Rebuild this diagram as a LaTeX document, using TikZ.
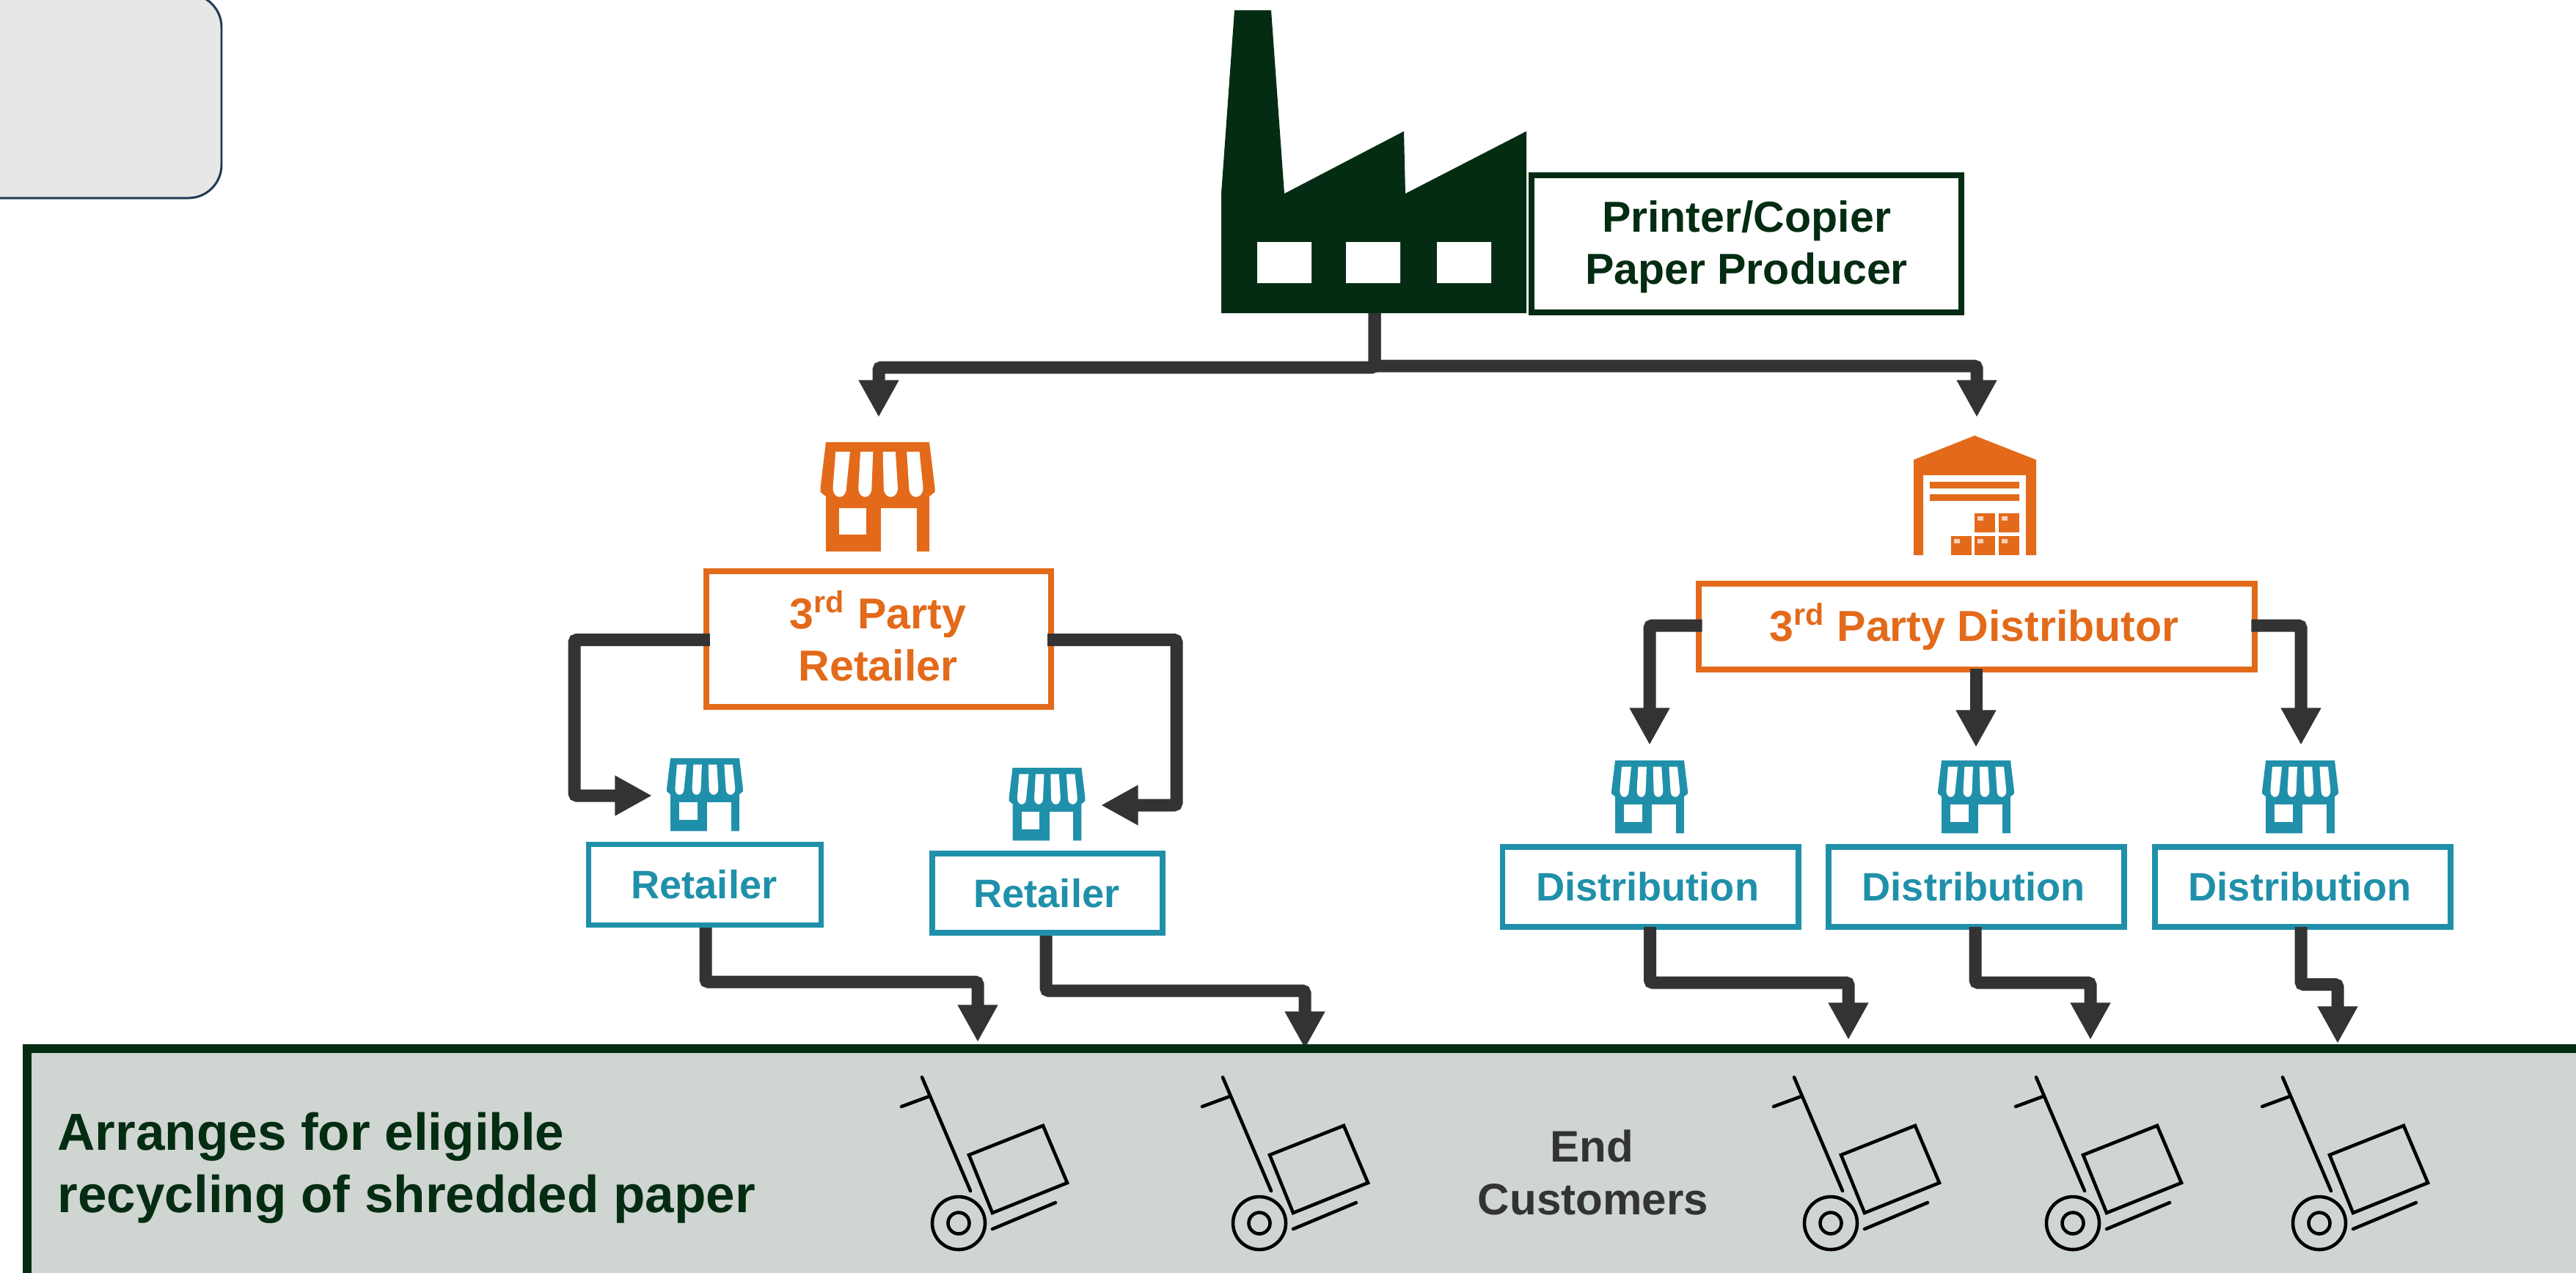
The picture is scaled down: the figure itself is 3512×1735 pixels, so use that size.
\documentclass[tikz,border=0pt]{standalone}
\usepackage{fontspec}
\setmainfont{Liberation Sans}
\usetikzlibrary{arrows.meta,calc}
\definecolor{dgreen}{HTML}{042C12}
\definecolor{orangeC}{HTML}{E36A1A}
\definecolor{tealC}{HTML}{2090AA}
\definecolor{darkC}{HTML}{333333}
\definecolor{panelC}{HTML}{CFD5D1}
\definecolor{greyC}{HTML}{E7E7E7}
\definecolor{navyC}{HTML}{1F3A56}
\tikzset{
  x=0.01cm,y=-0.01cm,
  conn/.style={draw=darkC,line width=4.84pt,rounded corners=1pt,-{Triangle[length=14.4pt,width=14.6pt]}},
  plainbox/.style={draw,fill=white,outer sep=0pt,inner sep=0pt},
  topbox/.style={plainbox,draw=dgreen,line width=2.3pt},
  orbox/.style={plainbox,draw=orangeC,line width=2.3pt},
  tlbox/.style={plainbox,draw=tealC,line width=2.2pt},
  toplab/.style={text=dgreen,align=center,inner sep=0pt,font=\fontsize{16.8}{20.2}\selectfont\bfseries},
  orlab/.style={text=orangeC,align=center,inner sep=0pt,font=\fontsize{16.8}{20.2}\selectfont\bfseries},
  tllab/.style={text=tealC,align=center,inner sep=0pt,font=\fontsize{15.4}{18}\selectfont\bfseries},
  paneltext/.style={anchor=base west,inner sep=0pt,text=dgreen,font=\fontsize{20.2}{24.2}\selectfont\bfseries},
  endtext/.style={anchor=base,inner sep=0pt,text=darkC,font=\fontsize{17.1}{20}\selectfont\bfseries},
  dollyline/.style={black,line width=1.3pt},
  pics/store/.style={code={
    \fill[#1] (-70.5,0) -- (70.5,0) -- (78,62) -- (78,68) -- (70.5,74) -- (70.5,149) -- (-70.5,149) -- (-70.5,74) -- (-78,68) -- (-78,62) -- cycle;
    \fill[white] (-52.5,90) rectangle (-15.5,126);
    \fill[white] (4.5,90) rectangle (53.5,149.6);
    \foreach \a/\b/\c/\d in {-57.2/-37.6/-42.6/-61,-23.5/-6.2/-8.1/-26.2,7.2/24.4/27.5/8.3,39.7/57/62/42.8}{
      \fill[white] (\a,13) -- (\b,13) -- (\c,62) .. controls (\c,79) and (\d,79) .. (\d,62) -- cycle;
    }
  }},
  pics/dolly/.style={code={
    \draw[dollyline,line cap=round] (-50,-199) -- (16,-44);
    \draw[dollyline,line cap=round] (-78,-159) -- (-40,-173);
    \draw[dollyline] (14,-93) -- (115,-133) -- (148,-55) -- (46,-14) -- cycle;
    \draw[dollyline,line cap=round] (46,8) -- (132,-28);
    \draw[dollyline] (0,0) circle[radius=36];
    \draw[dollyline] (0,0) circle[radius=14.5];
  }}
}
\begin{document}
\begin{tikzpicture}
\useasboundingbox (0,0) rectangle (3512,1735);
\clip (0,0) rectangle (3512,1735);
% top-left rounded panel
\draw[fill=greyC,draw=navyC,line width=0.85pt,rounded corners=12.8pt] (-100,-8) rectangle (302,270);
% factory
\fill[dgreen] (1683,14) -- (1733,14) -- (1751,264) -- (1914,179) -- (1916,264) -- (2081,179) -- (2081,427) -- (1665,427) -- (1665,264) -- cycle;
\fill[white] (1714,330) rectangle (1788,386) (1835,330) rectangle (1909,386) (1959,330) rectangle (2033,386);
\coordinate (fac) at (1874,427);
\coordinate (lj) at (1874,501);
\coordinate (rj) at (1874,499);
% boxes
\node[topbox,minimum width=5.86cm,minimum height=1.87cm,label={[toplab,yshift=-1.3pt]center:{Printer/Copier\\Paper Producer}}] (prod) at (2381,332.5) {};
\node[orbox,minimum width=4.70cm,minimum height=1.85cm,label={[orlab,xshift=-0.3pt,yshift=1.1pt]center:{3\textsuperscript{rd} Party\\Retailer}}] (rb) at (1198,871.5) {};
\node[orbox,minimum width=7.58cm,minimum height=1.17cm,label={[orlab,xshift=-1pt]center:{3\textsuperscript{rd} Party Distributor}}] (db) at (2695,854.5) {};
\node[tlbox,minimum width=3.17cm,minimum height=1.10cm,label={[tllab,xshift=-0.3pt]center:{Retailer}}] (r1) at (961,1206.5) {};
\node[tlbox,minimum width=3.14cm,minimum height=1.08cm,label={[tllab,xshift=-0.3pt]center:{Retailer}}] (r2) at (1428,1218) {};
\node[tlbox,minimum width=4.03cm,minimum height=1.09cm,label={[tllab,xshift=-1.1pt,yshift=0.2pt]center:{Distribution}}] (d1) at (2250,1209.5) {};
\node[tlbox,minimum width=4.03cm,minimum height=1.09cm,label={[tllab,xshift=-1.1pt,yshift=0.2pt]center:{Distribution}}] (d2) at (2694.5,1209.5) {};
\node[tlbox,minimum width=4.03cm,minimum height=1.09cm,label={[tllab,xshift=-1.1pt,yshift=0.2pt]center:{Distribution}}] (d3) at (3139.5,1209.5) {};
% icons
\pic at (1196.5,603) {store=orangeC};
\pic[scale=0.666] at (961,1034) {store=tealC};
\pic[scale=0.666] at (1427.5,1047) {store=tealC};
\pic[scale=0.666] at (2249,1037) {store=tealC};
\pic[scale=0.666] at (2694,1037) {store=tealC};
\pic[scale=0.666] at (3136,1037) {store=tealC};
% warehouse
\fill[orangeC] (2692,594) -- (2776,627) -- (2776,757) -- (2762,757) -- (2762,648) -- (2622,648) -- (2622,757) -- (2609,757) -- (2609,627) -- cycle;
\fill[orangeC] (2631,657) rectangle (2753,666) (2631,674) rectangle (2753,683);
\foreach \bx/\by in {2692/700,2725/700,2660/731,2692/731,2725/731}{
  \fill[orangeC] (\bx,\by) rectangle ++(28,26);
  \fill[white!70!orangeC] (\bx+4,\by+4) rectangle ++(8,6);
}
% targets
\coordinate (tl) at (1198,569);
\coordinate (tr) at (2695,569);
\coordinate (t1) at (889,1085);
\coordinate (t2) at (1501,1098);
\coordinate (td1) at (2249,1016);
\coordinate (td2) at (2694,1019);
\coordinate (td3) at (3137,1016);
\coordinate (e1) at (1333,1421);
\coordinate (e2) at (1779,1430);
\coordinate (e3) at (2520,1418);
\coordinate (e4) at (2850,1418);
\coordinate (e5) at (3187,1423);
% connectors
\draw[conn] (fac) -- (lj) -| (tl);
\draw[conn] (fac) -- (rj) -| (tr);
\draw[conn] ([xshift=1.4pt]rb.west |- 0,872.5) -| (783,1085) -- (t1);
\draw[conn] ([xshift=-1.4pt]rb.east |- 0,872.5) -| (1604,1098) -- (t2);
\draw[conn] ([xshift=1.4pt]db.west |- 0,853) -| (td1);
\draw[conn] (2694,912) -- (td2);
\draw[conn] ([xshift=-1.4pt]db.east |- 0,853) -| (td3);
\draw[conn] (962,1265) |- (1333,1339) -- (e1);
\draw[conn] (1426,1276) |- (1779,1351) -- (e2);
\draw[conn] (2249.5,1264) |- (2520,1340) -- (e3);
\draw[conn] (2693,1264) |- (2850,1340) -- (e4);
\draw[conn] (3137,1264) |- (3187,1342.5) -- (e5);
% bottom panel
\draw[fill=panelC,draw=dgreen,line width=3.4pt] (37,1430) rectangle (3560,1800);
\node[paneltext] (arr1) at (78,1568) {Arranges for eligible};
\node[paneltext] (arr2) at (78,1653) {recycling of shredded paper};
\node[endtext] (end1) at (2170,1584) {End};
\node[endtext] (end2) at (2172,1656) {Customers};
% dollies
\foreach \wx in {1307,1717,2496,2826,3162}{
  \pic at (\wx,1668) {dolly};
}
\end{tikzpicture}
\end{document}
